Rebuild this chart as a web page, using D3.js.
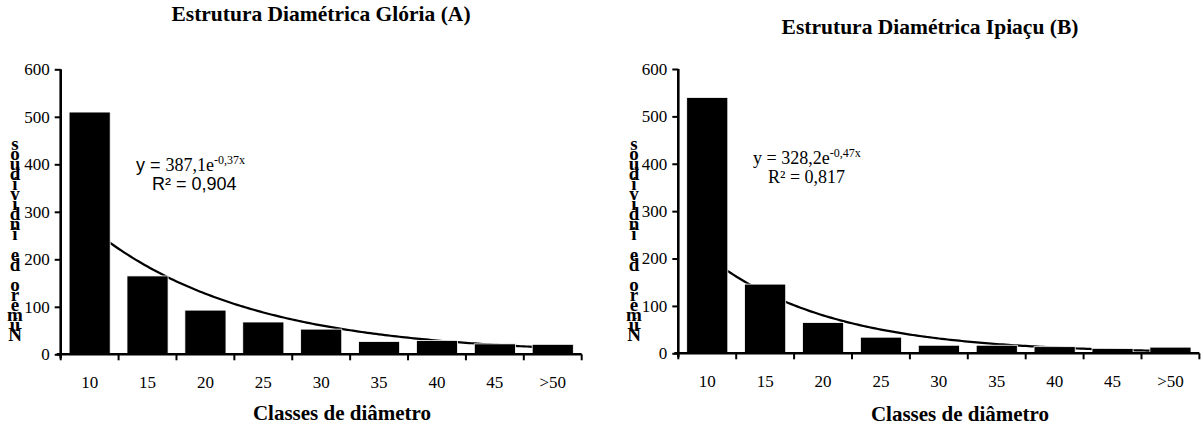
<!DOCTYPE html>
<html>
<head>
<meta charset="utf-8">
<script src="https://cdn.jsdelivr.net/npm/d3@7"></script>
<style>
  html, body { margin: 0; padding: 0; background: #fff; }
  svg { display: block; }
  text { fill: #000; }
</style>
</head>
<body>
<div id="chart"></div>
<script>
// categories (diameter classes)
const classes = ['10', '15', '20', '25', '30', '35', '40', '45', '>50'];

// number of individuals per class
const gloriaValues = [510, 165, 93, 68, 53, 27, 29, 22, 21];
const ipiacuValues = [540, 146, 65, 34, 17, 17, 14, 10, 13];

// fitted trend lines, as printed on the chart: y = a * e^(b*x)
const gloriaFit = { a: 387.1, b: -0.37, label: '387,1e', exp: '-0,37x', r2: 'R² = 0,904' };
const ipiacuFit = { a: 328.2, b: -0.47, label: '328,2e', exp: '-0,47x', r2: 'R² = 0,817' };

const yTicks = [0, 100, 200, 300, 400, 500, 600];
const yLabel = 'Número de indivíduos';
const xLabel = 'Classes de diâmetro';

const width = 1202, height = 430;
const serif = '"Liberation Serif", "Times New Roman", serif';
const sans = '"Liberation Sans", Arial, sans-serif';

const svg = d3.select('#chart').append('svg')
  .attr('width', width)
  .attr('height', height);

/**
 * Draw one panel of the figure
 */
function drawPanel(opts) {
  const g = svg.append('g');

  const x = d3.scaleBand()
    .domain(classes)
    .range([opts.left, opts.right])
    .paddingInner(0.29)
    .paddingOuter(0.145);

  const y = d3.scaleLinear()
    .domain([0, 600])
    .range([opts.bottom, opts.top]);

  // category index (1..9) -> pixel, same as excel trend line positions
  const xi = d3.scaleLinear()
    .domain([0.5, classes.length + 0.5])
    .range([opts.left, opts.right]);

  // title
  g.append('text')
    .attr('x', opts.titleX)
    .attr('y', opts.titleY)
    .attr('text-anchor', 'middle')
    .style('font-family', serif)
    .style('font-weight', 'bold')
    .style('font-size', '21.5px')
    .text(opts.title);

  // trend line from the printed equation
  const curve = d3.range(1, classes.length + 0.001, 0.05)
    .map(t => [xi(t), y(opts.fit.a * Math.exp(opts.fit.b * t))]);
  g.append('path')
    .attr('d', d3.line()(curve))
    .attr('fill', 'none')
    .attr('stroke', '#000')
    .attr('stroke-width', 2.2);

  // bars
  g.selectAll('.bar')
    .data(opts.values)
    .enter()
    .append('rect')
    .attr('class', 'bar')
    .attr('x', (d, i) => x(classes[i]))
    .attr('y', d => y(d))
    .attr('width', x.bandwidth())
    .attr('height', d => y(0) - y(d))
    .attr('fill', '#000')
    .attr('stroke', '#fff')
    .attr('stroke-width', 0.8);

  // y axis
  const yAxis = g.append('g')
    .attr('transform', `translate(${opts.left},0)`)
    .attr('font-family', serif)
    .call(d3.axisLeft(y).tickValues(yTicks).tickSize(6).tickPadding(5));
  yAxis.select('.domain').attr('stroke-width', 2.6).attr('d', `M0,${y(0) + 4}V${y(600)}`);
  yAxis.selectAll('.tick line').attr('stroke-width', 2);
  yAxis.selectAll('.tick text')
    .attr('font-family', serif)
    .style('font-family', serif)
    .style('font-size', '17px');

  // x axis with ticks between categories
  const step = x.step();
  const bounds = d3.range(classes.length + 1).map(i => opts.left + i * step);
  const xAxis = g.append('g');
  xAxis.append('line')
    .attr('x1', opts.left - 4).attr('x2', opts.right)
    .attr('y1', y(0)).attr('y2', y(0))
    .attr('stroke', '#000').attr('stroke-width', 2.6);
  xAxis.selectAll('.xt')
    .data(bounds)
    .enter()
    .append('line')
    .attr('x1', d => d).attr('x2', d => d)
    .attr('y1', y(0)).attr('y2', y(0) + 6)
    .attr('stroke', '#000').attr('stroke-width', 2);
  xAxis.selectAll('.xl')
    .data(classes)
    .enter()
    .append('text')
    .attr('x', d => x(d) + x.bandwidth() / 2)
    .attr('y', y(0) + 34)
    .attr('text-anchor', 'middle')
    .style('font-family', serif)
    .style('font-size', '17px')
    .text(d => d);

  // x axis title
  g.append('text')
    .attr('x', opts.xTitleX)
    .attr('y', opts.xTitleY)
    .attr('text-anchor', 'middle')
    .style('font-family', serif)
    .style('font-weight', 'bold')
    .style('font-size', '21px')
    .text(xLabel);

  // y axis title, broken into stacked letters (as in the original export)
  const letters = yLabel.split('').reverse();
  g.selectAll('.yl')
    .data(letters)
    .enter()
    .append('text')
    .attr('x', opts.yLabelX)
    .attr('y', (d, i) => opts.yLabelTop + i * 10.1)
    .attr('text-anchor', 'middle')
    .attr('dominant-baseline', 'central')
    .style('font-family', serif)
    .style('font-weight', 'bold')
    .style('font-size', '19px')
    .text(d => d);

  // equation and r squared
  const eq = g.append('text')
    .attr('x', opts.eqX)
    .attr('y', opts.eqY)
    .style('font-family', serif)
    .style('font-size', '18px');
  eq.append('tspan').style('font-family', opts.eqSans ? sans : serif).text('y = ');
  eq.append('tspan').text(opts.fit.label);
  eq.append('tspan').attr('dy', -7).style('font-size', '12px').text(opts.fit.exp);

  g.append('text')
    .attr('x', opts.r2X)
    .attr('y', opts.eqY + 19)
    .style('font-family', opts.eqSans ? sans : serif)
    .style('font-size', '18px')
    .text(opts.fit.r2);
}

drawPanel({
  title: 'Estrutura Diamétrica Glória (A)',
  values: gloriaValues,
  fit: gloriaFit,
  left: 60.7, right: 581.7, top: 69.3, bottom: 354.3,
  titleX: 321, titleY: 21,
  xTitleX: 342, xTitleY: 420,
  yLabelX: 15, yLabelTop: 143,
  eqX: 136, eqY: 171, r2X: 152, eqSans: true
});

drawPanel({
  title: 'Estrutura Diamétrica Ipiaçu (B)',
  values: ipiacuValues,
  fit: ipiacuFit,
  left: 678.3, right: 1199.4, top: 69, bottom: 353.3,
  titleX: 930, titleY: 34,
  xTitleX: 960, xTitleY: 421,
  yLabelX: 634, yLabelTop: 143,
  eqX: 753, eqY: 164, r2X: 768, eqSans: false
});
</script>
</body>
</html>
